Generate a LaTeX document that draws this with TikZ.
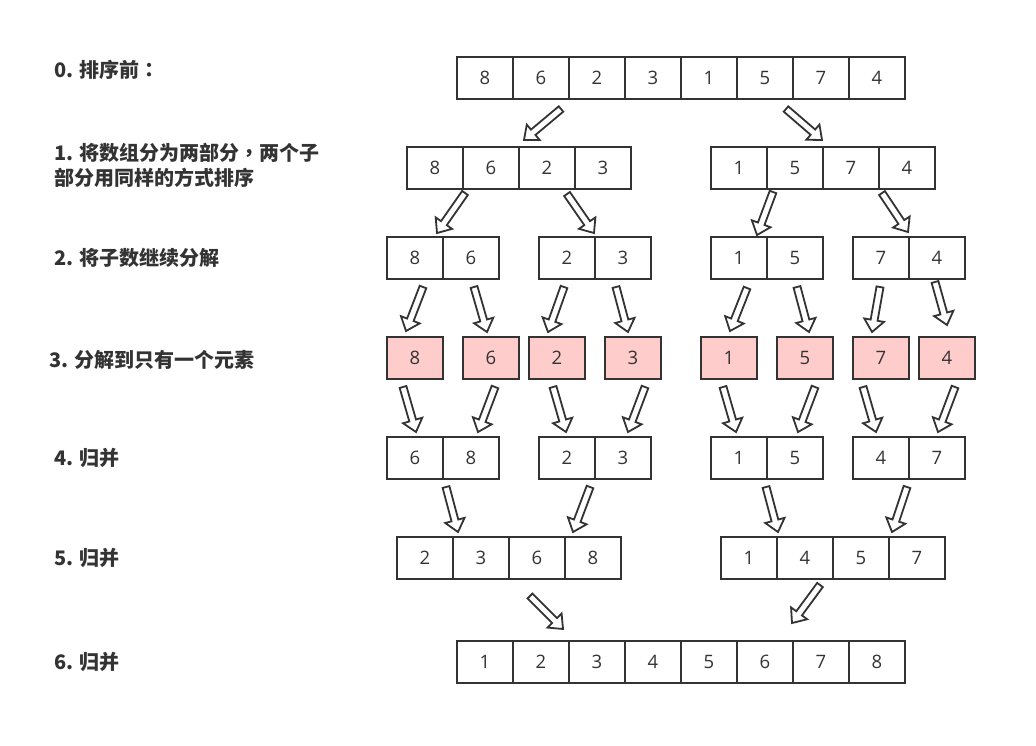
\documentclass[tikz,border=0pt]{standalone}
\usepackage{fontspec}
\setmainfont{Open Sans}
\newfontfamily\cjk{Noto Sans CJK SC}
\newfontfamily\cjktc{Noto Sans CJK TC}
\usetikzlibrary{calc}
\definecolor{dk}{HTML}{333333}
\definecolor{pk}{HTML}{FFCCCC}
\tikzset{
  cell/.style={draw=dk, line width=1.9pt, minimum width=56pt, minimum height=42pt,
    inner sep=0pt, anchor=north west, font=\fontsize{18.5}{18.5}\selectfont, text=dk},
  pinkcell/.style={cell, fill=pk},
  lbl/.style={anchor=west, inner sep=0pt, font=\cjk\bfseries\fontsize{20}{25}\selectfont,
    text=dk, align=left},
  barr/.style={draw=dk, line width=1.8pt, fill=white, line join=miter}
}
\newcommand\cellrow[5]{%
  \foreach \v [count=\i] in {#4} {\node[#5] (#1\i) at ({#2+56*(\i-1)},#3) {\v};}}
\newcommand\barrow[3]{%
  \coordinate (#1t) at #2;
  \coordinate (#1h) at #3;
  \coordinate (#1c) at ($(#1h)!12pt!(#1t)$);
  \draw[barr] ($(#1t)!3.5pt!90:(#1h)$) -- ($(#1c)!3.5pt!90:(#1h)$)
    -- ($(#1c)!10pt!90:(#1h)$) -- (#1h) -- ($(#1c)!10pt!-90:(#1h)$)
    -- ($(#1c)!3.5pt!-90:(#1h)$) -- ($(#1t)!3.5pt!-90:(#1h)$) -- cycle;}
\begin{document}
\begin{tikzpicture}[x=1pt,y=-1pt]
\useasboundingbox (0,0) rectangle (1036,746);
% labels
\node[lbl] (l0) at (54,70) {0. 排序前{\cjktc\bfseries ：}};
\node[lbl] (l1) at (54,165) {1. 将数组分为两部分{\cjktc\bfseries ，}两个子\\部分用同样的方式排序};
\node[lbl] (l2) at (54,258) {2. 将子数继续分解};
\node[lbl] (l3) at (49,360) {3. 分解到只有一个元素};
\node[lbl] (l4) at (54,458) {4. 归并};
\node[lbl] (l5) at (54,558) {5. 归并};
\node[lbl] (l6) at (54,662) {6. 归并};
% row 0
\cellrow{a}{456}{56}{8,6,2,3,1,5,7,4}{cell}
% row 1
\cellrow{bl}{406}{146}{8,6,2,3}{cell}
\cellrow{br}{710}{146}{1,5,7,4}{cell}
% row 2
\cellrow{ca}{386}{236}{8,6}{cell}
\cellrow{cb}{538}{236}{2,3}{cell}
\cellrow{cc}{710}{236}{1,5}{cell}
\cellrow{cd}{852}{236}{7,4}{cell}
% row 3
\node[pinkcell] (d1) at (386,336) {8};
\node[pinkcell] (d2) at (462,336) {6};
\node[pinkcell] (d3) at (528,336) {2};
\node[pinkcell] (d4) at (604,336) {3};
\node[pinkcell] (d5) at (700,336) {1};
\node[pinkcell] (d6) at (776,336) {5};
\node[pinkcell] (d7) at (852,336) {7};
\node[pinkcell] (d8) at (918,336) {4};
% row 4
\cellrow{ea}{386}{436}{6,8}{cell}
\cellrow{eb}{538}{436}{2,3}{cell}
\cellrow{ec}{710}{436}{1,5}{cell}
\cellrow{ed}{852}{436}{4,7}{cell}
% row 5
\cellrow{fl}{396}{536}{2,3,6,8}{cell}
\cellrow{fr}{720}{536}{1,4,5,7}{cell}
% row 6
\cellrow{g}{456}{640}{1,2,3,4,5,6,7,8}{cell}
% arrows 0 -> 1
\barrow{p1}{(561,109)}{(524,140)}
\barrow{p2}{(786,109)}{(822,140)}
% arrows 1 -> 2
\barrow{q1}{(465,193)}{(437,233)}
\barrow{q2}{(567,194)}{(594,233)}
\barrow{q3}{(773,192)}{(757,235)}
\barrow{q4}{(882,193)}{(908,232)}
% arrows 2 -> 3
\barrow{r1}{(423,287)}{(406,331)}
\barrow{r2}{(474,287)}{(487,332)}
\barrow{r3}{(564,287)}{(548,332)}
\barrow{r4}{(616,287)}{(628,332)}
\barrow{r5}{(747,288)}{(730,331)}
\barrow{r6}{(797,287)}{(809,332)}
\barrow{r7}{(880,287)}{(872,332)}
\barrow{r8}{(935,282)}{(947,325)}
% arrows 3 -> 4
\barrow{s1}{(403,387)}{(416,432)}
\barrow{s2}{(495,387)}{(478,432)}
\barrow{s3}{(553,387)}{(566,432)}
\barrow{s4}{(645,387)}{(628,432)}
\barrow{s5}{(723,387)}{(736,432)}
\barrow{s6}{(815,387)}{(798,432)}
\barrow{s7}{(863,387)}{(876,432)}
\barrow{s8}{(955,387)}{(938,432)}
% arrows 4 -> 5
\barrow{t1}{(446,487)}{(458,532)}
\barrow{t2}{(590,487)}{(573,532)}
\barrow{t3}{(766,487)}{(778,532)}
\barrow{t4}{(907,487)}{(892,532)}
% arrows 5 -> 6
\barrow{u1}{(530,596)}{(563,629)}
\barrow{u2}{(820,585)}{(792,623)}
\end{tikzpicture}
\end{document}
